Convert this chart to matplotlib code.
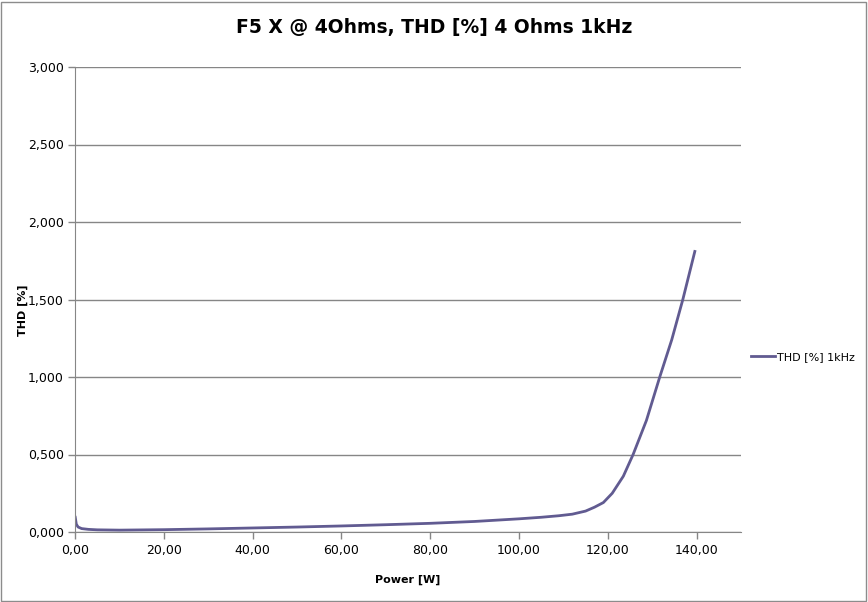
import matplotlib.pyplot as plt
from matplotlib.patches import Rectangle
from matplotlib.ticker import FuncFormatter

# THD vs output power
power = [0.05, 0.3, 0.7, 1.5, 3, 5, 10, 20, 30, 40, 50, 60, 70, 80, 90,
         100, 105, 109, 112, 115, 117, 119, 121, 123.5, 125.7, 128.7,
         131.7, 134.4, 136.9, 139.6]
thd = [0.095, 0.05, 0.032, 0.022, 0.017, 0.014, 0.012, 0.015, 0.02, 0.026,
       0.032, 0.039, 0.047, 0.056, 0.068, 0.085, 0.095, 0.105, 0.115, 0.135,
       0.16, 0.19, 0.25, 0.36, 0.5, 0.72, 1.0, 1.24, 1.5, 1.81]

series_name = 'THD [%] 1kHz'
title = 'F5 X @ 4Ohms, THD [%] 4 Ohms 1kHz'

line_color = '#615B91'
grid_color = '#868686'

fig = plt.figure(figsize=(8.68, 6.02), dpi=100)
fig.patches.append(Rectangle((0.001, 0.002), 0.997, 0.995, transform=fig.transFigure,
                             fill=False, edgecolor='#8c8c8c', linewidth=1))

ax = fig.add_axes([75 / 868, 1 - 532 / 602, (741 - 75) / 868, (532 - 67) / 602])
ax.plot(power, thd, color=line_color, linewidth=2, label=series_name)

ax.set_xlim(0, 150)
ax.set_ylim(0, 3.0)
ax.set_xticks(range(0, 141, 20))
ax.set_yticks([0, 0.5, 1.0, 1.5, 2.0, 2.5, 3.0])
ax.xaxis.set_major_formatter(FuncFormatter(lambda v, p: f'{v:.2f}'.replace('.', ',')))
ax.yaxis.set_major_formatter(FuncFormatter(lambda v, p: f'{v:.3f}'.replace('.', ',')))
ax.grid(axis='y', color=grid_color, linewidth=1)
ax.set_axisbelow(True)

for side in ['top', 'right']:
    ax.spines[side].set_visible(False)
ax.spines['left'].set_color(grid_color)
ax.spines['bottom'].set_color(grid_color)
ax.tick_params(axis='both', colors=grid_color, labelcolor='black', labelsize=9,
               length=5, width=1)
ax.tick_params(axis='y', pad=3)

ax.set_xlabel('Power [W]', fontsize=8, fontweight='bold')
ax.xaxis.set_label_coords(0.5, -43 / 465)
ax.set_ylabel('THD [%]', fontsize=8, fontweight='bold')
ax.yaxis.set_label_coords(-47 / 666, 0.477)
fig.text(0.5, 1 - 28 / 602, title, ha='center', va='center', fontsize=13.5, fontweight='bold')

ax.legend(loc='center left', bbox_to_anchor=(1.0, 0.376), frameon=False,
          fontsize=8, handlelength=2.2, handletextpad=0.1)

fig.savefig('out.png', dpi=100)
